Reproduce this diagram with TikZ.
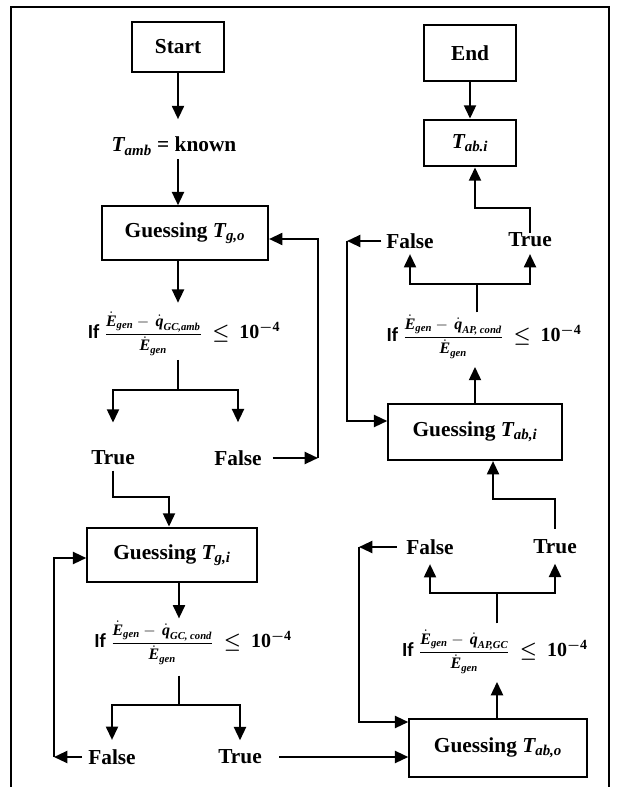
\documentclass[tikz,border=0pt]{standalone}
\usepackage{amsmath,amssymb}
\usepackage{bm}
\usepackage{fontspec}
\setmainfont{Liberation Serif}
\newfontfamily\iffont{Carlito}
\usetikzlibrary{arrows.meta}

\newcommand{\bT}[1]{$\textit{T}_{\textit{#1}}$}
\newcommand{\condtext}[1]{{\iffont If}\ {\fontsize{12}{14}\selectfont$\dfrac{\dot{\textit{E}}_{\textit{gen}}-\,\dot{\textit{q}}_{\textit{#1}}}{\dot{\textit{E}}_{\textit{gen}}}$}\ \ $\bm{\le}$\ \ 10$^{\bm{-}\textbf{4}}$}

\begin{document}
\begin{tikzpicture}[x=0.75pt,y=-0.75pt,
  font=\fontsize{16}{19}\selectfont\bfseries,
  box/.style={draw,line width=1.6pt,inner sep=2pt},
  lbl/.style={inner sep=0pt},
  cond/.style={inner sep=0pt,font=\fontsize{15}{17}\selectfont\bfseries},
  ln/.style={line width=1.6pt},
  arr/.style={ln,-{Triangle[width=9pt,length=10pt]}}]
  \useasboundingbox (0,0) rectangle (622,787);
  \draw[ln] (11,787) -- (11,7) -- (609,7) -- (609,787);

  % left column
  \node[box,minimum width=69pt,minimum height=38pt] (start) at (178,47) {Start};
  \node[lbl] (tamb) at (174,146) {\bT{amb} = known};
  \node[box,minimum width=124.5pt,minimum height=40pt] (tgo) at (185,233) {Guessing \bT{g,o}};
  \node[cond] (if1) at (184,334) {\condtext{GC,amb}};
  \node[lbl] (true1) at (113,458) {True};
  \node[lbl] (false1) at (238,458) {False};
  \node[box,minimum width=127pt,minimum height=41pt] (tgi) at (172,555) {Guessing \bT{g,i}};
  \node[cond] (if2) at (193,643) {\condtext{GC, cond}};
  \node[lbl] (false2) at (112,757) {False};
  \node[lbl] (true2) at (240,757) {True};

  % right column
  \node[box,minimum width=133pt,minimum height=43pt] (tabo) at (498,748) {Guessing \bT{ab,o}};
  \node[cond] (if4) at (495,652) {\condtext{AP,GC}};
  \node[lbl] (false4) at (430,547) {False};
  \node[lbl] (true4) at (555,547) {True};
  \node[box,minimum width=130pt,minimum height=42pt] (tabi) at (475,432) {Guessing \bT{ab,i}};
  \node[cond] (if3) at (484,337) {\condtext{AP, cond}};
  \node[lbl] (false3) at (410,241) {False};
  \node[lbl] (true3) at (530,240) {True};
  \node[box,minimum width=69pt,minimum height=35pt] (tab) at (470,143) {\bT{ab.i}};
  \node[box,minimum width=69pt,minimum height=42pt] (end) at (470,53) {End};

  \coordinate (j1) at (178,390);
  \coordinate (k1) at (169,497);
  \coordinate (fb1) at (318,239);
  \coordinate (j2) at (179,705);
  \coordinate (fb2) at (54,558);
  \coordinate (j4) at (497,593);
  \coordinate (fb4) at (359,722);
  \coordinate (k4) at (493,499);
  \coordinate (j3) at (477,284);
  \coordinate (fb3) at (347,421);
  \coordinate (k3) at (475,208);

  \draw[arr,shorten >=13pt] (start.south) -- (start.south |- tamb.north);
  \draw[arr,shorten <=3pt] (start.south |- tamb.south) -- (start.south |- tgo.north);
  \draw[arr,shorten >=7pt] (j1 |- tgo.south) -- (j1 |- if1.north);
  \draw[ln,shorten <=3pt] (j1 |- if1.south) -- (j1);
  \draw[arr,shorten >=21pt] (j1) -| (true1.north);
  \draw[arr,shorten >=21pt] (j1) -| (false1.north);
  \draw[arr,shorten <=8pt] (false1.east) -- (false1.east -| fb1);
  \draw[arr] (fb1 |- false1) -- (fb1) -- (fb1 -| tgo.east);
  \draw[arr,shorten <=4pt] (true1.south) |- (k1) -- (k1 |- tgi.north);

  \draw[arr,shorten >=2pt] (j2 |- tgi.south) -- (j2 |- if2.north);
  \draw[ln,shorten <=8pt] (j2 |- if2.south) -- (j2);
  \draw[arr,shorten >=7pt] (j2) -| (false2.north);
  \draw[arr,shorten >=7pt] (j2) -| (true2.north);
  \draw[arr,shorten <=4.5pt] (false2.west) -- (false2.west -| fb2);
  \draw[arr] (fb2 |- false2) -- (fb2) -- (fb2 -| tgi.west);
  \draw[arr,shorten <=13pt] (true2.east) -- (true2.east -| tabo.west);

  \draw[arr,shorten >=6pt] (j4 |- tabo.north) -- (j4 |- if4.south);
  \draw[ln,shorten <=5pt] (j4 |- if4.north) -- (j4);
  \draw[arr,shorten >=7pt] (j4) -| (false4.south);
  \draw[arr,shorten >=7pt] (j4) -| (true4.south);
  \draw[arr,shorten <=7pt] (false4.west) -- (false4.west -| fb4);
  \draw[arr] (fb4 |- false4) -- (fb4) -- (fb4 -| tabo.west);
  \draw[arr,shorten <=8pt] (true4.north) |- (k4) -- (k4 |- tabi.south);

  \draw[arr,shorten >=6pt] (tabi.north) -- (tabi.north |- if3.south);
  \draw[ln,shorten <=2pt] (j3 |- if3.north) -- (j3);
  \draw[arr,shorten >=4pt] (j3) -| (false3.south);
  \draw[arr,shorten >=5pt] (j3) -| (true3.south);
  \draw[arr,shorten <=3.5pt] (false3.west) -- (false3.west -| fb3);
  \draw[arr] (fb3 |- false3) -- (fb3) -- (fb3 -| tabi.west);
  \draw[arr] (true3.north) |- (k3) -- (k3 |- tab.south);
  \draw[arr] (end.south) -- (tab.north);
\end{tikzpicture}
\end{document}
